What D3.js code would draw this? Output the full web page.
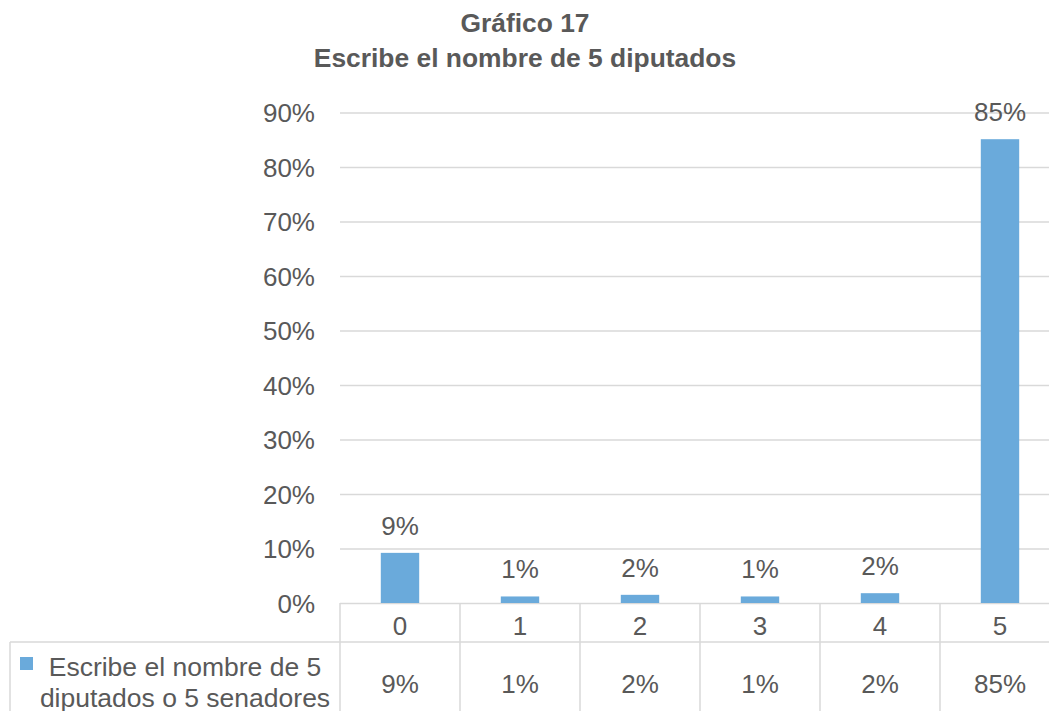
<!DOCTYPE html>
<html>
<head>
<meta charset="UTF-8">
<title>Gráfico 17</title>
<script src="https://cdn.jsdelivr.net/npm/d3@7"></script>
<style>
body { margin: 0; background: #fff; }
text { font-family: "Liberation Sans", Arial, sans-serif; fill: #595959; }
</style>
</head>
<body>
<script>
// datos
var categorias = ["0", "1", "2", "3", "4", "5"];
var valores = [0.092, 0.012, 0.015, 0.012, 0.018, 0.851];
var etiquetas = ["9%", "1%", "2%", "1%", "2%", "85%"];
var ticksY = [0, 0.1, 0.2, 0.3, 0.4, 0.5, 0.6, 0.7, 0.8, 0.9];
var serie = ["Escribe el nombre de 5", "diputados o 5 senadores"];
var titulo = ["Gráfico 17", "Escribe el nombre de 5 diputados"];

var W = 1049, H = 711;
var colorBarra = "#6aaadb";
var colorLinea = "#d9d9d9";

var svg = d3.select("body").append("svg")
	.attr("width", W)
	.attr("height", H);

// escalas
var x = d3.scaleBand()
	.domain(categorias)
	.range([340, 1060])
	.paddingInner(0.68)
	.paddingOuter(0.34);

var y = d3.scaleLinear()
	.domain([0, 0.9])
	.range([603, 112.5]);

// titulo
svg.append("g").selectAll("text")
	.data(titulo)
	.enter().append("text")
	.attr("x", 525)
	.attr("y", function(d, i) { return 32 + i * 35; })
	.attr("text-anchor", "middle")
	.style("font-size", "26.4px")
	.style("font-weight", "bold")
	.text(function(d) { return d; });

// lineas de cuadricula + etiquetas del eje Y
var ejeY = svg.append("g")
	.attr("transform", "translate(340,0)")
	.call(d3.axisLeft(y)
		.tickValues(ticksY)
		.tickSize(-720)
		.tickPadding(25)
		.tickFormat(d3.format(".0%")));
ejeY.select(".domain").remove();
ejeY.selectAll(".tick line").attr("stroke", colorLinea).attr("stroke-width", 1.5);
ejeY.selectAll(".tick text")
	.attr("dy", "0.36em")
	.style("font-size", "26px")
	.attr("fill", "#595959")
	.attr("font-family", null);

// barras
svg.append("g").selectAll("rect")
	.data(valores)
	.enter().append("rect")
	.attr("x", function(d, i) { return x(categorias[i]); })
	.attr("y", function(d) { return y(d); })
	.attr("width", x.bandwidth())
	.attr("height", function(d) { return y(0) - y(d); })
	.attr("fill", colorBarra);

// etiquetas de datos
svg.append("g").selectAll("text")
	.data(valores)
	.enter().append("text")
	.attr("x", function(d, i) { return x(categorias[i]) + x.bandwidth() / 2; })
	.attr("y", function(d) { return y(d) - 18; })
	.attr("text-anchor", "middle")
	.style("font-size", "26px")
	.text(function(d, i) { return etiquetas[i]; });

// tabla de datos
var step = x.step();
var tabla = svg.append("g");
var bordes = d3.range(categorias.length + 1).map(function(i) { return 340 + i * step; });

tabla.selectAll("line.v")
	.data(bordes)
	.enter().append("line")
	.attr("x1", function(d) { return d; })
	.attr("x2", function(d) { return d; })
	.attr("y1", y(0))
	.attr("y2", H)
	.attr("stroke", colorLinea)
	.attr("stroke-width", 1.5);

tabla.append("line")
	.attr("x1", 10).attr("x2", 1060)
	.attr("y1", 642).attr("y2", 642)
	.attr("stroke", colorLinea)
	.attr("stroke-width", 1.5);

tabla.append("line")
	.attr("x1", 10).attr("x2", 10)
	.attr("y1", 642).attr("y2", H)
	.attr("stroke", colorLinea)
	.attr("stroke-width", 1.5);

// etiquetas de categoria
tabla.selectAll("text.cat")
	.data(categorias)
	.enter().append("text")
	.attr("x", function(d) { return x(d) + x.bandwidth() / 2; })
	.attr("y", 635)
	.attr("text-anchor", "middle")
	.style("font-size", "26px")
	.text(function(d) { return d; });

// valores de la tabla
tabla.selectAll("text.val")
	.data(etiquetas)
	.enter().append("text")
	.attr("x", function(d, i) { return x(categorias[i]) + x.bandwidth() / 2; })
	.attr("y", 693)
	.attr("text-anchor", "middle")
	.style("font-size", "26px")
	.text(function(d) { return d; });

// leyenda
tabla.append("rect")
	.attr("x", 20).attr("y", 657)
	.attr("width", 13).attr("height", 13)
	.attr("fill", colorBarra);

tabla.selectAll("text.ley")
	.data(serie)
	.enter().append("text")
	.attr("x", 185)
	.attr("y", function(d, i) { return 676 + i * 31; })
	.attr("text-anchor", "middle")
	.style("font-size", "26.5px")
	.text(function(d) { return d; });
</script>
</body>
</html>
